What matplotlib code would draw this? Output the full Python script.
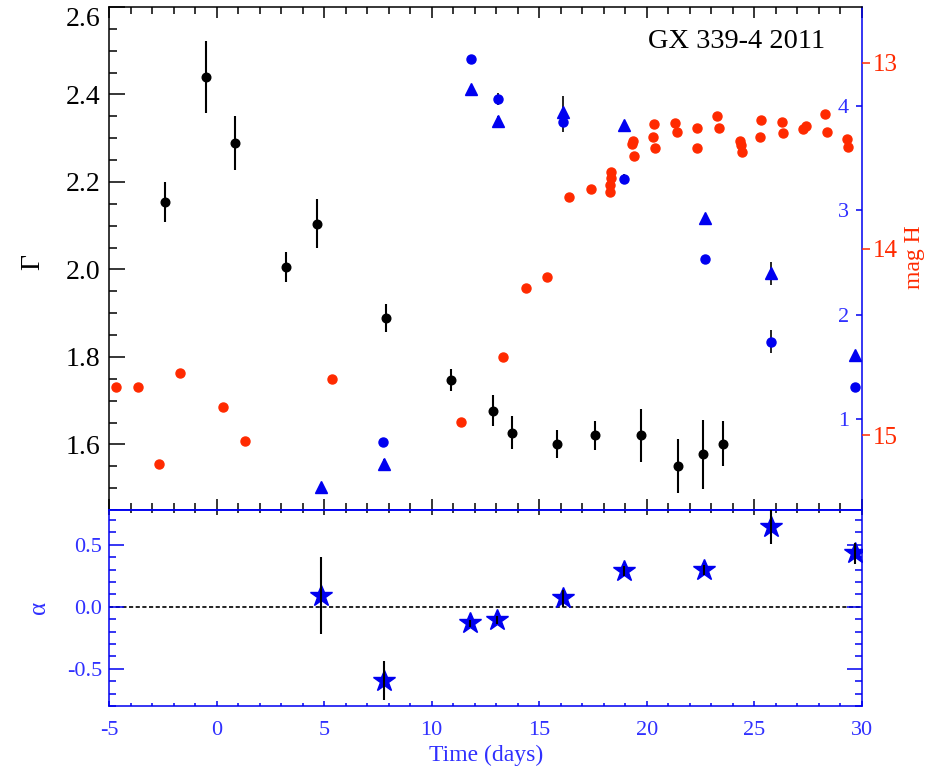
import matplotlib
matplotlib.use('Agg')
import matplotlib.pyplot as plt
from matplotlib.ticker import MultipleLocator, FormatStrFormatter

plt.rcParams['font.family'] = ['Liberation Serif', 'DejaVu Serif']
plt.rcParams['axes.unicode_minus'] = False

# ---------------- data ----------------
gamma_t = [-2.40, -0.49, 0.87, 3.23, 4.65, 7.86, 10.90, 12.86, 13.72, 15.81,
           17.59, 19.73, 21.46, 22.62, 23.55]
gamma = [2.155, 2.440, 2.289, 2.006, 2.105, 1.890, 1.747, 1.677, 1.627, 1.602,
         1.621, 1.621, 1.551, 1.577, 1.602]
gamma_err = [0.046, 0.082, 0.061, 0.035, 0.056, 0.032, 0.026, 0.035, 0.037, 0.032,
             0.033, 0.061, 0.061, 0.078, 0.052]

circle_t = [7.75, 11.83, 13.10, 16.09, 18.95, 22.70, 25.77, 29.67]
circle_v = [0.78, 4.448, 4.065, 3.85, 3.30, 2.53, 1.743, 1.312]
circle_err = [0.04, 0.04, 0.06, 0.10, 0.05, 0.04, 0.11, 0.04]

tri_t = [4.85, 7.78, 11.83, 13.10, 16.09, 18.95, 22.70, 25.77, 29.67]
tri_v = [0.354, 0.569, 4.161, 3.86, 3.946, 3.82, 2.925, 2.40, 1.616]
tri_err = [0.04, 0.05, 0.04, 0.04, 0.15, 0.04, 0.04, 0.11, 0.04]

red_t = [-4.69, -3.67, -2.66, -1.69, 0.31, 1.32, 5.35, 11.36, 13.33, 14.37,
         15.38, 16.38, 17.39, 18.32, 18.32, 18.30, 18.31, 19.37, 19.33, 19.40,
         20.35, 20.30, 20.38, 21.31, 21.42, 22.32, 22.35, 23.27, 23.37, 24.33,
         24.37, 24.41, 25.29, 25.26, 26.27, 26.34, 27.27, 27.40, 28.28, 28.36,
         29.29, 29.36]
red_mag = [14.740, 14.740, 15.157, 14.669, 14.848, 15.031, 14.699, 14.929, 14.579, 14.209,
           14.150, 13.720, 13.680, 13.585, 13.620, 13.657, 13.693, 13.419, 13.437, 13.500,
           13.331, 13.401, 13.460, 13.326, 13.374, 13.352, 13.460, 13.286, 13.351, 13.419,
           13.442, 13.478, 13.308, 13.401, 13.317, 13.379, 13.358, 13.340, 13.277, 13.374,
           13.411, 13.451]

star_t = [4.84, 7.78, 11.78, 13.05, 16.09, 18.95, 22.67, 25.76, 29.67]
alpha = [0.09, -0.597, -0.134, -0.107, 0.068, 0.290, 0.296, 0.645, 0.430]
alpha_err = [0.31, 0.157, 0.03, 0.03, 0.07, 0.04, 0.04, 0.137, 0.086]

gamma_ticks = [1.6, 1.8, 2.0, 2.2, 2.4, 2.6]
blue_ticks = [1, 2, 3, 4]
mag_ticks = [13, 14, 15]
alpha_ticks = [-0.5, 0.0, 0.5]
time_ticks = [-5, 0, 5, 10, 15, 20, 25, 30]

# ---------------- style ----------------
BLUE = '#0000f0'
LBLUE = '#3030ff'
RED = '#ff2a00'
LW = 1.1

fig = plt.figure(figsize=(9.29, 7.72), dpi=100)
L, R = 109 / 929, 862 / 929
ytop, ymid, ybot = 1 - 7 / 772, 1 - 510 / 772, 1 - 706 / 772

# ---------------- top panel ----------------
ax = fig.add_axes([L, ymid, R - L, ytop - ymid])
ax.errorbar(gamma_t, gamma, yerr=gamma_err, fmt='o', color='black', ms=6.2,
            elinewidth=1.5, capsize=0, zorder=5)
ax.set_xlim(-5, 30)
ax.set_ylim(1.45, 2.6)
ax.set_yticks(gamma_ticks)
ax.yaxis.set_minor_locator(MultipleLocator(0.05))
ax.yaxis.set_major_formatter(FormatStrFormatter('%.1f'))
ax.set_xticks(time_ticks)
ax.xaxis.set_minor_locator(MultipleLocator(1))
ax.tick_params(axis='y', which='major', direction='in', length=11.5, width=LW,
               labelsize=20, pad=6, right=False, color='black')
ax.tick_params(axis='y', which='minor', direction='in', length=5.8, width=LW,
               right=False, color='black')
ax.tick_params(axis='x', which='major', direction='in', length=8, width=LW,
               top=True, bottom=True, labelbottom=False, color='black')
ax.tick_params(axis='x', which='minor', direction='in', length=5, width=LW,
               top=True, bottom=True, color='black')
# keep the top label (2.6) inside the figure, as in the reference
ax.get_yticklabels()[-1].set_verticalalignment('top')
for s in ['left', 'top']:
    ax.spines[s].set_color('black')
    ax.spines[s].set_linewidth(LW)
for s in ['bottom', 'right']:
    ax.spines[s].set_color(BLUE)
    ax.spines[s].set_linewidth(LW)

# blue right axis (inside labels)
axb = ax.twinx()
for s in axb.spines.values():
    s.set_visible(False)
axb.errorbar(tri_t, tri_v, yerr=tri_err, fmt='^', color=BLUE, ms=9,
             ecolor='black', elinewidth=1.2, capsize=0, zorder=4)
axb.errorbar(circle_t, circle_v, yerr=circle_err, fmt='o', color=BLUE, ms=6.5,
             ecolor='black', elinewidth=1.2, capsize=0, zorder=4)
axb.set_ylim(0.131, 4.948)
axb.set_yticks(blue_ticks)
axb.tick_params(axis='y', which='major', direction='in', length=4.5, width=LW,
                color=BLUE, labelcolor=LBLUE, labelsize=16, pad=-9.4)
for t in axb.get_yticklabels():
    t.set_horizontalalignment('right')

# red right axis (mag H)
axr = ax.twinx()
for s in axr.spines.values():
    s.set_visible(False)
axr.plot(red_t, red_mag, 'o', color=RED, ms=6.5, mec=RED, zorder=3)
axr.set_ylim(15.403, 12.70)
axr.set_yticks(mag_ticks)
axr.tick_params(axis='y', which='major', direction='out', length=5.5, width=LW,
                color=RED, labelcolor=RED, labelsize=18, pad=2.5)
axr.set_xlim(-5, 30)

# ---------------- bottom panel ----------------
ax2 = fig.add_axes([L, ybot, R - L, ymid - ybot])
ax2.axhline(0, color='black', ls=(0, (2.5, 1.5)), lw=1.2, zorder=1)
ax2.plot(star_t, alpha, '*', color=BLUE, ms=16.5, zorder=3)
ax2.errorbar(star_t, alpha, yerr=alpha_err, fmt='none', ecolor='black',
             elinewidth=1.5, capsize=0, zorder=4)
ax2.set_xlim(-5, 30)
ax2.set_ylim(-0.80, 0.78)
ax2.set_yticks(alpha_ticks)
ax2.yaxis.set_minor_locator(MultipleLocator(0.1))
ax2.yaxis.set_major_formatter(FormatStrFormatter('%.1f'))
ax2.set_xticks(time_ticks)
ax2.xaxis.set_minor_locator(MultipleLocator(1))
ax2.tick_params(axis='y', which='major', direction='in', length=10.8, width=LW,
                left=True, right=True, color=BLUE, labelcolor=LBLUE,
                labelsize=16, pad=5)
ax2.tick_params(axis='y', which='minor', direction='in', length=5, width=LW,
                left=True, right=True, color=BLUE)
ax2.tick_params(axis='x', which='major', direction='in', length=3.8, width=LW,
                color=BLUE, labelcolor=LBLUE, labelsize=16, pad=11)
ax2.tick_params(axis='x', which='minor', direction='in', length=2.4, width=LW,
                color=BLUE)
for s in ax2.spines.values():
    s.set_color(BLUE)
    s.set_linewidth(LW)

sec = ax2.secondary_xaxis('top')
sec.set_xticks(time_ticks)
sec.xaxis.set_minor_locator(MultipleLocator(1))
sec.tick_params(axis='x', which='major', direction='in', length=3.8, width=LW,
                color='black', labeltop=False)
sec.tick_params(axis='x', which='minor', direction='in', length=2.2, width=LW,
                color='black')
sec.spines['top'].set_color(BLUE)
sec.spines['top'].set_linewidth(LW)

# ---------------- labels ----------------
fig.text(32.5 / 929, 1 - 262 / 772, 'Γ', rotation=90, ha='center', va='center',
         fontsize=20, color='black')
fig.text(915 / 929, 1 - 257 / 772, 'mag H', rotation=90, ha='center', va='center',
         fontsize=17, color=RED)
fig.text(39.5 / 929, 1 - 607 / 772, 'α', rotation=90, ha='center', va='center',
         fontsize=18, color=LBLUE)
fig.text(486 / 929, 1 - 755 / 772, 'Time (days)', ha='center', va='center',
         fontsize=17, color=LBLUE)
fig.text(825 / 929, 1 - 42 / 772, 'GX 339-4 2011', ha='right', va='center',
         fontsize=20.5, color='black')

fig.savefig('out.png', dpi=100)
